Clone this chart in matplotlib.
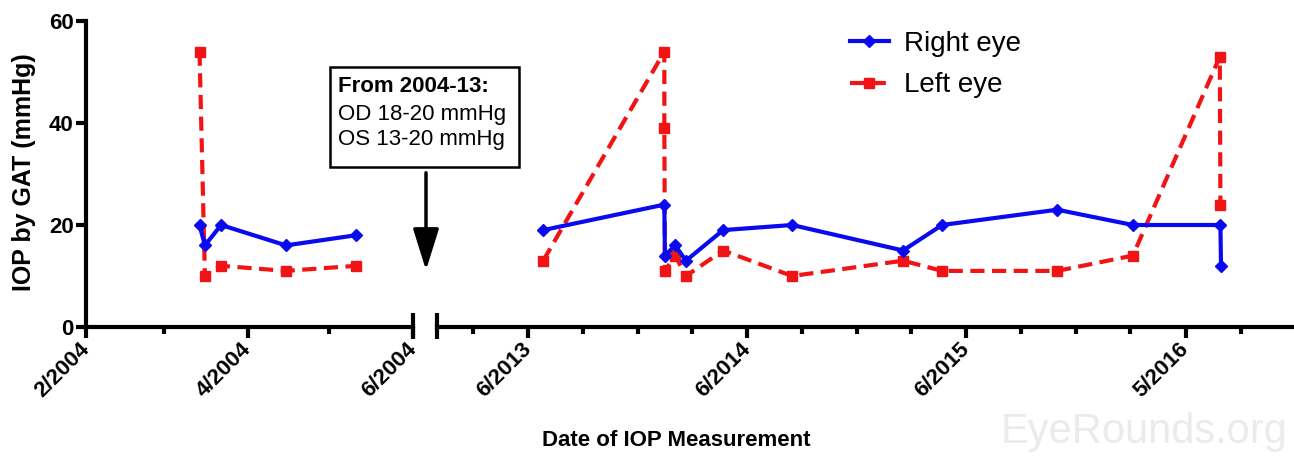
import matplotlib
matplotlib.use("Agg")
import matplotlib.pyplot as plt
import pandas as pd

plt.rcParams['font.family'] = ['Liberation Sans', 'DejaVu Sans']

# IOP readings (mmHg) by date
right_dates = ["2004-03-14", "2004-03-16", "2004-03-22", "2004-04-15", "2004-05-11",
               "2013-06-26", "2014-01-14", "2014-01-15", "2014-02-01", "2014-02-19",
               "2014-04-22", "2014-08-15", "2015-02-16", "2015-04-22", "2015-10-31",
               "2016-03-05", "2016-07-29", "2016-07-30"]
right_iop = [20, 16, 20, 16, 18,
             19, 24, 14, 16, 13,
             19, 20, 15, 20, 23,
             20, 20, 12]

left_dates = ["2004-03-14", "2004-03-16", "2004-03-22", "2004-04-15", "2004-05-11",
              "2013-06-26", "2014-01-14", "2014-01-14", "2014-01-15", "2014-02-01",
              "2014-02-19", "2014-04-22", "2014-08-15", "2015-02-16", "2015-04-22",
              "2015-10-31", "2016-03-05", "2016-07-28", "2016-07-29"]
left_iop = [54, 10, 12, 11, 12,
            13, 54, 39, 11, 14,
            10, 15, 10, 13, 11,
            11, 14, 53, 24]

early_ticks = ["2004-02-01", "2004-04-01", "2004-06-01"]
early_labels = ["2/2004", "4/2004", "6/2004"]
early_minor = ["2004-03-01", "2004-05-01"]
late_ticks = ["2013-06-01", "2014-06-01", "2015-06-01", "2016-06-01"]
late_labels = ["6/2013", "6/2014", "6/2015", "5/2016"]
late_minor = ["2013-03-01", "2013-09-01", "2013-12-01", "2014-03-01", "2014-09-01",
              "2014-12-01", "2015-03-01", "2015-09-01", "2015-12-01", "2016-03-01",
              "2016-09-01"]

W, H = 1294, 457
BLUE = "#0a0af0"
RED = "#f21414"

fig = plt.figure(figsize=(W / 100, H / 100), dpi=100)
ax1 = fig.add_axes([86 / W, 1 - 327 / H, 327 / W, 306 / H])
ax2 = fig.add_axes([437 / W, 1 - 327 / H, 856 / W, 306 / H], sharey=ax1)

rd = pd.to_datetime(right_dates)
ld = pd.to_datetime(left_dates)
cut = pd.Timestamp("2010-01-01")

for ax, sel_r, sel_l in [(ax1, rd < cut, ld < cut), (ax2, rd >= cut, ld >= cut)]:
    r_vals = [v for v, s in zip(right_iop, sel_r) if s]
    l_vals = [v for v, s in zip(left_iop, sel_l) if s]
    ax.plot(rd[sel_r], r_vals, color=BLUE, lw=3, marker='D', ms=6,
            label="Right eye", zorder=3)
    ax.plot(ld[sel_l], l_vals, color=RED, lw=3, ls='--', dashes=(3.4, 1.8),
            marker='s', ms=7, label="Left eye", zorder=2)

ax1.set_xlim(pd.Timestamp("2004-02-01"), pd.Timestamp("2004-06-01"))
ax2.set_xlim(pd.Timestamp("2012-12-31"), pd.Timestamp("2016-11-27"))
ax1.set_ylim(0, 60)
ax1.set_yticks([0, 20, 40, 60])

for ax in (ax1, ax2):
    for side in ("top", "right"):
        ax.spines[side].set_visible(False)
    ax.spines["bottom"].set_linewidth(3)
    ax.patch.set_alpha(0)
    ax.tick_params(axis='x', which='major', length=8, width=3, pad=6,
                   labelsize=16)
    ax.tick_params(axis='x', which='minor', length=5, width=3)
    # break caps at the segment ends
    for xe in ((1.0,) if ax is ax1 else (0.0,)):
        ax.plot([xe, xe], [-0.04, 0.045], transform=ax.transAxes, color='k',
                lw=3, clip_on=False, solid_capstyle='butt')

ax1.spines["left"].set_linewidth(3)
ax1.tick_params(axis='y', length=7, width=3, labelsize=16, pad=2)
ax2.spines["left"].set_visible(False)
ax2.tick_params(axis='y', left=False, labelleft=False)

ax1.set_xticks(pd.to_datetime(early_ticks))
ax1.set_xticklabels(early_labels)
ax1.set_xticks(pd.to_datetime(early_minor), minor=True)
ax2.set_xticks(pd.to_datetime(late_ticks))
ax2.set_xticklabels(late_labels)
ax2.set_xticks(pd.to_datetime(late_minor), minor=True)

for ax in (ax1, ax2):
    for lab in ax.get_xticklabels():
        lab.set_rotation(45)
        lab.set_ha('right')
        lab.set_va('center')
        lab.set_rotation_mode('anchor')
        lab.set_fontweight('bold')
for lab in ax1.get_yticklabels():
    lab.set_fontweight('bold')

fig.text(24 / W, 1 - 172 / H, "IOP by GAT (mmHg)", rotation=90, ha='center',
         va='center', fontsize=18, fontweight='bold')
fig.text(676 / W, 1 - 440 / H, "Date of IOP Measurement", ha='center',
         va='center', fontsize=16, fontweight='bold')

# annotation box and arrow over the axis break
fig.text(338 / W, 1 - 76 / H, "From 2004-13:", ha='left', va='top',
         fontsize=16, fontweight='bold')
fig.text(338 / W, 1 - 104 / H, "OD 18-20 mmHg\nOS 13-20 mmHg", ha='left',
         va='top', fontsize=16, linespacing=1.25)
fig.add_artist(plt.Rectangle((330 / W, 1 - 167 / H), 189 / W, 100 / H,
                             transform=fig.transFigure, fill=False, lw=1.8,
                             ec='k'))
fig.add_artist(matplotlib.patches.FancyArrowPatch(
    (426 / W, 1 - 170 / H), (426 / W, 1 - 273 / H), transform=fig.transFigure,
    arrowstyle='-|>,head_length=1.6,head_width=0.5', mutation_scale=16,
    lw=2.5, color='k'))

handles, labels = ax2.get_legend_handles_labels()
fig.legend(handles, labels, loc='upper left',
           bbox_to_anchor=(850 / W, 1 - 31 / H), frameon=False, fontsize=20,
           handlelength=1.4, handletextpad=0.55, labelspacing=0.55,
           borderpad=0, borderaxespad=0)

fig.text(1288 / W, 1 - 432 / H, "EyeRounds.org", ha='right', va='center',
         fontsize=30, color='#ebebeb')

fig.savefig("out.png", dpi=100)
